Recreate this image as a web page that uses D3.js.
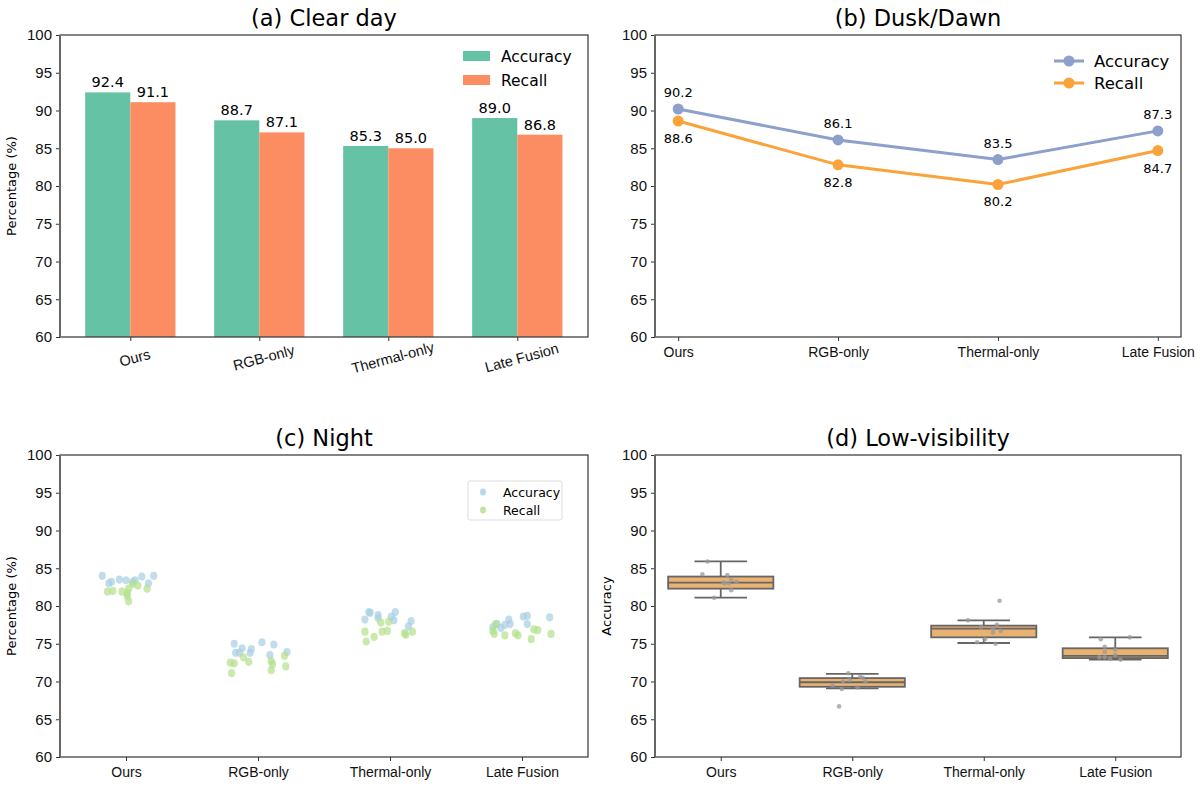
<!DOCTYPE html>
<html>
<head>
<meta charset="utf-8">
<script src="https://cdn.jsdelivr.net/npm/d3@7"></script>
<style>
  body { margin: 0; background: #fff; }
  svg { font-family: "DejaVu Sans", sans-serif; }
</style>
</head>
<body>
<div id="chart"></div>
<script>
const methods = ["Ours", "RGB-only", "Thermal-only", "Late Fusion"];
const yTicks = [60, 65, 70, 75, 80, 85, 90, 95, 100];

// (a) clear day
const clearAcc = [92.4, 88.7, 85.3, 89.0];
const clearRec = [91.1, 87.1, 85.0, 86.8];

// (b) dusk / dawn
const duskAcc = [90.2, 86.1, 83.5, 87.3];
const duskRec = [88.6, 82.8, 80.2, 84.7];

// (c) night, per-run values and strip jitter
const nightAcc = [
  [84.0, 83.0, 83.2, 83.4, 83.4, 83.9, 83.0, 84.0, 83.2, 83.5],
  [75.0, 73.8, 74.4, 73.8, 73.8, 74.3, 75.2, 74.9, 73.5, 73.9],
  [78.2, 79.2, 79.1, 78.8, 78.4, 78.6, 78.1, 79.2, 77.3, 78.0],
  [77.2, 77.6, 77.1, 77.5, 78.2, 77.6, 78.6, 78.7, 77.6, 78.5]
];
const nightAccJitter = [
  [-0.18, -0.13, -0.11, 0.00, 0.07, 0.12, 0.17, 0.21, 0.05, -0.05],
  [-0.18, -0.17, -0.12, -0.14, -0.06, -0.05, 0.03, 0.12, 0.09, 0.22],
  [-0.19, -0.16, -0.15, -0.09, -0.09, 0.01, 0.03, 0.04, 0.14, 0.16],
  [-0.22, -0.19, -0.16, -0.13, -0.10, -0.09, 0.01, 0.04, 0.04, 0.21]
];
const nightRec = [
  [81.9, 82.0, 81.9, 81.3, 80.6, 82.3, 82.9, 82.7, 82.3, 81.7],
  [72.5, 72.4, 71.1, 73.2, 72.6, 72.7, 72.3, 71.5, 73.4, 72.0],
  [76.6, 75.9, 77.8, 76.6, 76.7, 77.9, 76.4, 76.6, 75.3, 76.2],
  [76.3, 77.6, 76.1, 76.4, 76.1, 75.6, 76.9, 76.8, 76.3, 76.7]
];
const nightRecJitter = [
  [-0.14, -0.10, -0.03, 0.01, 0.02, 0.02, 0.05, 0.09, 0.16, 0.01],
  [-0.21, -0.18, -0.20, -0.11, -0.07, 0.10, 0.11, 0.10, 0.20, 0.21],
  [-0.19, -0.12, -0.07, -0.06, -0.02, -0.01, 0.11, 0.17, -0.18, 0.12],
  [-0.21, -0.20, -0.13, -0.05, -0.03, 0.07, 0.09, 0.12, 0.22, -0.22]
];

// (d) low visibility, box stats and raw runs
const lowQ1 = [82.3, 69.3, 75.85, 73.1];
const lowMedian = [83.1, 69.9, 77.0, 73.4];
const lowQ3 = [83.9, 70.45, 77.4, 74.4];
const lowWhiskLo = [81.1, 69.1, 75.1, 72.9];
const lowWhiskHi = [85.9, 71.0, 78.1, 75.85];
const lowRuns = [
  [85.9, 84.2, 84.1, 83.5, 83.2, 83.0, 83.0, 82.1, 81.1, 83.1],
  [71.1, 70.6, 70.5, 70.0, 70.0, 69.5, 69.0, 69.2, 66.7, 70.2],
  [80.7, 78.1, 77.2, 77.5, 76.5, 76.7, 75.6, 75.2, 75.0, 77.0],
  [75.6, 75.85, 74.6, 74.2, 73.9, 73.2, 73.2, 72.9, 73.5, 73.0]
];
const lowJitter = [
  [-0.10, -0.14, 0.05, 0.08, 0.12, 0.03, 0.06, 0.08, -0.05, 0.02],
  [-0.03, 0.06, 0.08, 0.10, -0.07, -0.15, -0.08, 0.04, -0.10, -0.02],
  [0.12, -0.12, -0.02, 0.10, 0.07, 0.13, 0.01, -0.05, 0.09, 0.07],
  [-0.11, 0.11, -0.08, 0.00, -0.08, -0.12, -0.08, 0.04, 0.00, -0.04]
];

const W = 1201, H = 789;
const svg = d3.select("#chart").append("svg")
  .attr("width", W).attr("height", H);

const left = { x0: 60, x1: 588 }, right = { x0: 655, x1: 1181 };
const topRow = { y0: 35, y1: 337 }, botRow = { y0: 455, y1: 757 };

function panel(cols, rows, xDomain, title, yLabel, xRotate) {
  const g = svg.append("g");
  const x = d3.scaleLinear().domain(xDomain).range([cols.x0, cols.x1]);
  const y = d3.scaleLinear().domain([60, 100]).range([rows.y1, rows.y0]);

  const yAxis = g.append("g")
    .attr("transform", `translate(${cols.x0},0)`)
    .call(d3.axisLeft(y).tickValues(yTicks).tickSize(4).tickPadding(4));
  yAxis.select(".domain").remove();
  yAxis.selectAll("text").style("font-size", "15px").attr("fill", "#111");
  yAxis.selectAll("line").attr("stroke", "#333");

  const xAxis = g.append("g")
    .attr("transform", `translate(0,${rows.y1})`)
    .call(d3.axisBottom(x).tickValues(d3.range(methods.length))
      .tickFormat(i => methods[i]).tickSize(4).tickPadding(6));
  xAxis.select(".domain").remove();
  xAxis.selectAll("line").attr("stroke", "#333");
  xAxis.selectAll("text").style("font-size", "14px").attr("fill", "#111");
  if (xRotate) {
    xAxis.selectAll("text")
      .style("font-size", "14.5px")
      .attr("text-anchor", "middle")
      .attr("transform", "translate(0,6) rotate(-15)");
  }

  g.append("text")
    .attr("x", (cols.x0 + cols.x1) / 2).attr("y", rows.y0 - 9)
    .attr("text-anchor", "middle")
    .style("font-size", "22.5px")
    .text(title);

  if (yLabel) {
    g.append("text")
      .attr("transform", `translate(${cols.x0 - 44},${(rows.y0 + rows.y1) / 2}) rotate(-90)`)
      .attr("text-anchor", "middle")
      .style("font-size", "13px")
      .text(yLabel);
  }
  return { g, x, y, cols, rows };
}

function frame(p) {
  p.g.append("rect")
    .attr("x", p.cols.x0).attr("y", p.rows.y0)
    .attr("width", p.cols.x1 - p.cols.x0).attr("height", p.rows.y1 - p.rows.y0)
    .attr("fill", "none").attr("stroke", "#333").attr("stroke-width", 1.2);
  p.g.append("line")
    .attr("x1", p.cols.x0).attr("x2", p.cols.x0)
    .attr("y1", p.rows.y0).attr("y2", p.rows.y1)
    .attr("stroke", "#666").attr("stroke-width", 2);
}

// ---- (a) bars
const pa = panel(left, topRow, [-0.545, 3.548], "(a) Clear day", "Percentage (%)", true);
const bw = 0.35;
const barColors = { acc: "#66c2a5", rec: "#fc8d62" };
[[clearAcc, -bw, barColors.acc], [clearRec, 0, barColors.rec]].forEach(([vals, off, col]) => {
  pa.g.selectAll(null).data(vals).join("rect")
    .attr("x", (d, i) => pa.x(i + off))
    .attr("width", pa.x(bw) - pa.x(0))
    .attr("y", d => pa.y(d))
    .attr("height", d => pa.y(60) - pa.y(d))
    .attr("fill", col);
  pa.g.selectAll(null).data(vals).join("text")
    .attr("x", (d, i) => pa.x(i + off + bw / 2))
    .attr("y", d => pa.y(d) - 5)
    .attr("text-anchor", "middle")
    .style("font-size", "14.5px")
    .text(d => d.toFixed(1));
});
frame(pa);
[["Accuracy", barColors.acc, 56], ["Recall", barColors.rec, 80]].forEach(([name, col, ly]) => {
  pa.g.append("rect").attr("x", 463).attr("y", ly - 5).attr("width", 27).attr("height", 10).attr("fill", col);
  pa.g.append("text").attr("x", 501).attr("y", ly + 5.5).style("font-size", "15.5px").text(name);
});

// ---- (b) lines
const pb = panel(right, topRow, [-0.145, 3.145], "(b) Dusk/Dawn", null, false);
const lineColors = { acc: "#8da0cb", rec: "#f9a33a" };
[[duskAcc, lineColors.acc, -12], [duskRec, lineColors.rec, 22]].forEach(([vals, col, dy]) => {
  pb.g.append("path")
    .datum(vals)
    .attr("d", d3.line().x((d, i) => pb.x(i)).y(d => pb.y(d)))
    .attr("fill", "none").attr("stroke", col).attr("stroke-width", 3);
  pb.g.selectAll(null).data(vals).join("circle")
    .attr("cx", (d, i) => pb.x(i)).attr("cy", d => pb.y(d))
    .attr("r", 5.5).attr("fill", col);
  pb.g.selectAll(null).data(vals).join("text")
    .attr("x", (d, i) => pb.x(i)).attr("y", d => pb.y(d) + dy)
    .attr("text-anchor", "middle")
    .style("font-size", "13px")
    .text(d => d.toFixed(1));
});
frame(pb);
[["Accuracy", lineColors.acc, 61], ["Recall", lineColors.rec, 83]].forEach(([name, col, ly]) => {
  pb.g.append("line").attr("x1", 1054).attr("x2", 1084).attr("y1", ly).attr("y2", ly)
    .attr("stroke", col).attr("stroke-width", 3);
  pb.g.append("circle").attr("cx", 1069).attr("cy", ly).attr("r", 5.5).attr("fill", col);
  pb.g.append("text").attr("x", 1094).attr("y", ly + 6).style("font-size", "16.5px").text(name);
});

// ---- (c) strips
const pc = panel(left, botRow, [-0.5, 3.5], "(c) Night", "Percentage (%)", false);
const stripColors = { acc: "#a6cee3", rec: "#b2df8a" };
[[nightAcc, nightAccJitter, stripColors.acc], [nightRec, nightRecJitter, stripColors.rec]].forEach(([groups, jit, col]) => {
  const pts = groups.flatMap((vals, i) => vals.map((v, k) => ({ i, v, j: jit[i][k] })));
  pc.g.selectAll(null).data(pts).join("ellipse")
    .attr("cx", d => pc.x(d.i + d.j)).attr("cy", d => pc.y(d.v))
    .attr("rx", 3.6).attr("ry", 4.1)
    .attr("fill", col).attr("fill-opacity", 0.7);
});
frame(pc);
pc.g.append("rect").attr("x", 468).attr("y", 481).attr("width", 94).attr("height", 39)
  .attr("fill", "white").attr("fill-opacity", 0.8).attr("stroke", "#ddd").attr("rx", 2);
[["Accuracy", stripColors.acc, 492], ["Recall", stripColors.rec, 510]].forEach(([name, col, ly]) => {
  pc.g.append("ellipse").attr("cx", 483).attr("cy", ly).attr("rx", 3).attr("ry", 3.4)
    .attr("fill", col).attr("fill-opacity", 0.8);
  pc.g.append("text").attr("x", 503).attr("y", ly + 4.5).style("font-size", "12.5px").text(name);
});

// ---- (d) boxes
const pd = panel(right, botRow, [-0.5, 3.5], "(d) Low-visibility", "Accuracy", false);
const boxW = 0.8, capW = 0.4;
const boxStroke = "#666";
methods.forEach((m, i) => {
  const g = pd.g.append("g");
  g.append("line").attr("x1", pd.x(i)).attr("x2", pd.x(i))
    .attr("y1", pd.y(lowWhiskHi[i])).attr("y2", pd.y(lowQ3[i]))
    .attr("stroke", boxStroke).attr("stroke-width", 1.8);
  g.append("line").attr("x1", pd.x(i)).attr("x2", pd.x(i))
    .attr("y1", pd.y(lowQ1[i])).attr("y2", pd.y(lowWhiskLo[i]))
    .attr("stroke", boxStroke).attr("stroke-width", 1.8);
  [lowWhiskHi[i], lowWhiskLo[i]].forEach(v => {
    g.append("line").attr("x1", pd.x(i - capW / 2)).attr("x2", pd.x(i + capW / 2))
      .attr("y1", pd.y(v)).attr("y2", pd.y(v))
      .attr("stroke", boxStroke).attr("stroke-width", 1.8);
  });
  g.append("rect")
    .attr("x", pd.x(i - boxW / 2)).attr("width", pd.x(boxW) - pd.x(0))
    .attr("y", pd.y(lowQ3[i])).attr("height", pd.y(lowQ1[i]) - pd.y(lowQ3[i]))
    .attr("fill", "#e9b271").attr("stroke", boxStroke).attr("stroke-width", 1.8);
  g.append("line").attr("x1", pd.x(i - boxW / 2)).attr("x2", pd.x(i + boxW / 2))
    .attr("y1", pd.y(lowMedian[i])).attr("y2", pd.y(lowMedian[i]))
    .attr("stroke", boxStroke).attr("stroke-width", 1.8);
});
const runPts = lowRuns.flatMap((vals, i) => vals.map((v, k) => ({ i, v, j: lowJitter[i][k] })));
pd.g.selectAll(null).data(runPts).join("circle")
  .attr("cx", d => pd.x(d.i + d.j)).attr("cy", d => pd.y(d.v))
  .attr("r", 2.3).attr("fill", "#999").attr("fill-opacity", 0.75);
frame(pd);
</script>
</body>
</html>
